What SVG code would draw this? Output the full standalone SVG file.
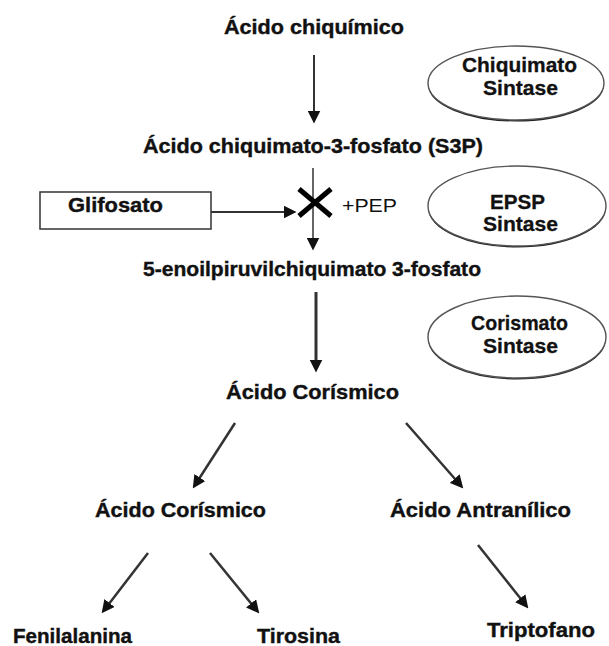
<svg xmlns="http://www.w3.org/2000/svg" width="609" height="646" viewBox="0 0 609 646">
<style>
.t{font-family:"Liberation Sans",Arial,sans-serif;font-weight:bold;font-size:21px;fill:#111;stroke:#111;stroke-width:0.4;}
.e{font-family:"Liberation Sans",Arial,sans-serif;font-weight:bold;font-size:21px;fill:#111;stroke:#111;stroke-width:0.3;}
.r{font-family:"Liberation Sans",Arial,sans-serif;font-size:18px;fill:#111;}
.enz{fill:#fff;stroke:#555;stroke-width:1.4;}
.sh{fill:none;stroke:#222;stroke-width:2;}
.c{stroke:#333;fill:none;}
</style>
<defs>
<marker id="ah" viewBox="0 0 12 12" refX="6" refY="6" markerWidth="13" markerHeight="13" markerUnits="userSpaceOnUse" orient="auto">
<path d="M0,0 L12,6 L0,12 z" fill="#111"/>
</marker>
</defs>
<rect width="609" height="646" fill="#fff"/>

<g id="connectors">
<line class="c" x1="314" y1="55" x2="314" y2="117" stroke-width="2" marker-end="url(#ah)"/>
<line class="c" x1="313" y1="168" x2="313" y2="244" stroke-width="1.5" stroke="#555" marker-end="url(#ah)"/>
<line class="c" x1="211" y1="212" x2="290" y2="212" stroke-width="2" marker-end="url(#ah)"/>
<line class="c" x1="316" y1="292" x2="316" y2="366" stroke-width="3" stroke="#111" marker-end="url(#ah)"/>
<line class="c" x1="235" y1="423" x2="196.3" y2="483" stroke-width="2.5" marker-end="url(#ah)"/>
<line class="c" x1="406" y1="423" x2="459" y2="483.5" stroke-width="2.5" marker-end="url(#ah)"/>
<line class="c" x1="148" y1="553" x2="105.6" y2="608.2" stroke-width="2.5" marker-end="url(#ah)"/>
<line class="c" x1="210" y1="553" x2="255.2" y2="608.4" stroke-width="2.5" marker-end="url(#ah)"/>
<line class="c" x1="478" y1="545" x2="524.3" y2="603.3" stroke-width="2.5" marker-end="url(#ah)"/>
</g>

<g id="inhibition">
<line x1="299" y1="189" x2="331" y2="216" stroke="#000" stroke-width="5"/>
<line x1="331" y1="189" x2="299" y2="216" stroke="#000" stroke-width="5"/>
<text class="r" x="342" y="212" textLength="55" lengthAdjust="spacingAndGlyphs">+PEP</text>
</g>

<g id="acido-chiquimico">
<text class="t" x="224" y="34" textLength="180" lengthAdjust="spacingAndGlyphs">Ácido chiquímico</text>
</g>
<g id="s3p">
<text class="t" x="143" y="153" textLength="340" lengthAdjust="spacingAndGlyphs">Ácido chiquimato-3-fosfato (S3P)</text>
</g>
<g id="glifosato">
<rect x="40" y="192" width="171" height="37" fill="#fff" stroke="#333" stroke-width="1.5"/>
<text class="t" x="68" y="212" font-size="19" textLength="95" lengthAdjust="spacingAndGlyphs">Glifosato</text>
</g>
<g id="epsp">
<text class="t" x="143" y="276" textLength="338" lengthAdjust="spacingAndGlyphs">5-enoilpiruvilchiquimato 3-fosfato</text>
</g>
<g id="acido-corismico">
<text class="t" x="226" y="399" textLength="173" lengthAdjust="spacingAndGlyphs">Ácido Corísmico</text>
</g>
<g id="acido-corismico-2">
<text class="t" x="95" y="517" textLength="171" lengthAdjust="spacingAndGlyphs">Ácido Corísmico</text>
</g>
<g id="acido-antranilico">
<text class="t" x="390" y="517" textLength="181" lengthAdjust="spacingAndGlyphs">Ácido Antranílico</text>
</g>
<g id="fenilalanina">
<text class="t" x="13" y="643" textLength="119" lengthAdjust="spacingAndGlyphs">Fenilalanina</text>
</g>
<g id="tirosina">
<text class="t" x="257" y="643" textLength="83" lengthAdjust="spacingAndGlyphs">Tirosina</text>
</g>
<g id="triptofano">
<text class="t" x="487" y="637" textLength="108" lengthAdjust="spacingAndGlyphs">Triptofano</text>
</g>

<g id="chiquimato-sintase">
<ellipse class="sh" cx="516" cy="84.5" rx="87" ry="36"/>
<ellipse class="enz" cx="516" cy="83" rx="88" ry="37"/>
<text class="e" x="462" y="72" textLength="115" lengthAdjust="spacingAndGlyphs">Chiquimato</text>
<text class="e" x="483" y="95" textLength="75" lengthAdjust="spacingAndGlyphs">Sintase</text>
</g>
<g id="epsp-sintase">
<ellipse class="sh" cx="517" cy="207.5" rx="88" ry="39"/>
<ellipse class="enz" cx="517" cy="206" rx="89" ry="40"/>
<text class="e" x="490" y="209" textLength="55" lengthAdjust="spacingAndGlyphs">EPSP</text>
<text class="e" x="483" y="231" textLength="75" lengthAdjust="spacingAndGlyphs">Sintase</text>
</g>
<g id="corismato-sintase">
<ellipse class="sh" cx="517" cy="338.5" rx="88" ry="40"/>
<ellipse class="enz" cx="517" cy="337" rx="89" ry="41"/>
<text class="e" x="471" y="330" textLength="97" lengthAdjust="spacingAndGlyphs">Corismato</text>
<text class="e" x="483" y="353" textLength="75" lengthAdjust="spacingAndGlyphs">Sintase</text>
</g>
</svg>
